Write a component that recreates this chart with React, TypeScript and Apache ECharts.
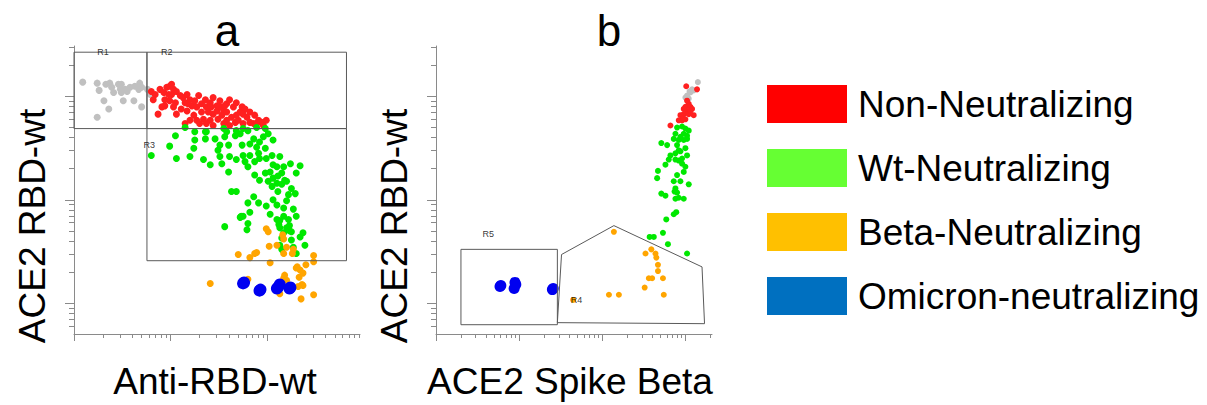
import { useEffect, useRef } from "react";
import * as echarts from "echarts";

type P = [number, number];

// All values are in decades (log10 of fluorescence intensity).

// ---- Panel a : Anti-RBD-wt (x) vs ACE2 RBD-wt (y)
const A_OTHER: P[] = [
  [1.09, 4.14], [1.24, 4.13], [1.26, 4.06], [1.33, 4.12], [1.37, 4.13], [1.39, 4.09], [1.41, 4.04],
  [1.46, 4.12], [1.48, 4.07], [1.49, 4.04], [1.53, 4.07], [1.49, 4.12], [1.55, 4.05], [1.58, 4.09],
  [1.63, 4.1], [1.67, 4.07], [1.68, 4.13], [1.7, 4.09], [1.31, 3.96], [1.36, 3.88], [1.51, 3.96],
  [1.62, 3.96], [1.7, 3.9], [1.24, 3.8], [1.76, 4.07], [1.79, 4.02],
];
const A_NON_NEUT: P[] = [
  [1.8, 4.05], [1.84, 4.02], [1.89, 4.07], [1.93, 4.04], [1.96, 4.09], [1.99, 4.1], [2.03, 4.07],
  [2.01, 4.02], [2.06, 4.05], [2.1, 4.01], [1.94, 3.97], [1.99, 3.96], [2.05, 3.94], [2.13, 3.99],
  [2.17, 4.02], [2.15, 3.94], [2.2, 3.97], [2.22, 3.91], [2.25, 3.96], [2.29, 4.01], [2.32, 3.93],
  [2.36, 3.97], [2.37, 3.9], [2.41, 3.94], [2.44, 3.99], [2.48, 3.91], [2.51, 3.96], [2.55, 3.86],
  [2.58, 3.93], [2.61, 3.97], [2.65, 3.9], [2.68, 3.94], [2.72, 3.85], [2.74, 3.9], [2.77, 3.88],
  [2.79, 3.8], [2.82, 3.85], [2.87, 3.82], [2.91, 3.77], [2.94, 3.75], [2.99, 3.77], [1.87, 3.83],
  [1.94, 3.91], [2.06, 3.83], [2.11, 3.88], [2.17, 3.86], [2.24, 3.82], [2.27, 3.77], [2.32, 3.85],
  [2.34, 3.78], [2.41, 3.77], [2.44, 3.83], [2.49, 3.78], [2.53, 3.82], [2.58, 3.77], [2.63, 3.8],
  [2.67, 3.75], [2.7, 3.77], [2.75, 3.74], [2.82, 3.75], [2.86, 3.74], [2.37, 3.74], [2.44, 3.72],
  [2.55, 3.74], [2.61, 3.72], [2.15, 3.74], [1.82, 3.97], [1.91, 3.9], [2.2, 3.77], [2.3, 3.74],
  [2.03, 3.9], [2.48, 3.86], [2.58, 3.85], [2.68, 3.82], [2.39, 3.85], [1.98, 4.02], [2.18, 3.93],
  [2.27, 3.9], [2.51, 3.9], [2.42, 3.9], [2.56, 3.91], [2.75, 3.83], [2.89, 3.74], [2.96, 3.72],
  [2.01, 4.12],
];
const A_WT_NEUT: P[] = [
  [2.05, 3.62], [1.99, 3.52], [1.8, 3.43], [2.06, 3.4], [2.2, 3.42], [2.24, 3.5], [2.25, 3.58],
  [2.36, 3.59], [2.37, 3.66], [2.46, 3.59], [2.51, 3.53], [2.49, 3.48], [2.6, 3.53], [2.56, 3.61],
  [2.67, 3.62], [2.72, 3.64], [2.74, 3.53], [2.75, 3.43], [2.68, 3.39], [2.61, 3.42], [2.53, 3.35],
  [2.51, 3.42], [2.6, 3.27], [2.41, 3.34], [2.34, 3.39], [2.82, 3.54], [2.86, 3.59], [2.89, 3.51],
  [2.92, 3.56], [2.96, 3.61], [3.01, 3.64], [3.06, 3.58], [2.98, 3.5], [2.91, 3.45], [2.82, 3.43],
  [2.8, 3.32], [2.77, 3.37], [2.87, 3.37], [2.92, 3.4], [2.99, 3.4], [3.05, 3.43], [3.13, 3.42],
  [3.06, 3.34], [3.1, 3.32], [3.17, 3.32], [3.24, 3.35], [3.34, 3.33], [3.15, 3.26], [3.3, 3.26],
  [2.87, 3.24], [2.98, 3.26], [3.03, 3.27], [3.06, 3.21], [3.1, 3.16], [3.15, 3.15], [3.2, 3.18],
  [3.05, 3.13], [3.11, 3.08], [3.22, 3.05], [3.29, 3.06], [3.2, 2.99], [3.27, 2.91], [3.17, 2.92],
  [2.99, 2.94], [3.06, 3.0], [3.1, 2.95], [2.91, 2.97], [2.86, 3.03], [2.8, 2.97], [2.82, 2.88],
  [2.63, 3.08], [2.68, 3.08], [3.11, 3.23], [3.18, 3.19], [3.25, 3.11], [3.01, 3.18], [2.92, 3.19],
  [2.15, 3.7], [2.25, 3.66], [2.36, 3.66], [2.55, 3.69], [2.58, 3.66], [2.68, 3.67], [2.75, 3.69],
  [2.8, 3.67], [2.89, 3.7], [2.98, 3.69],
  [3.3, 2.84], [3.22, 2.81], [3.17, 2.84], [3.13, 2.8], [3.1, 2.81], [3.03, 2.86], [2.73, 2.84],
  [2.72, 2.83], [2.8, 2.77], [2.56, 2.74], [2.79, 2.71], [3.13, 2.73], [3.17, 2.68], [3.2, 2.73],
  [3.25, 2.69], [3.15, 2.63], [3.25, 2.61], [3.34, 2.64], [3.37, 2.68], [3.13, 2.56], [3.15, 2.52],
  [3.27, 2.54], [3.3, 2.48], [3.39, 2.56], [2.75, 2.84], [3.12, 2.76], [3.23, 2.75], [3.23, 2.7],
];
const A_BETA_NEUT: P[] = [
  [2.99, 2.72], [3.01, 2.69], [3.16, 2.66], [3.17, 2.62], [3.02, 2.55], [3.1, 2.56], [3.2, 2.54],
  [3.27, 2.52], [3.26, 2.48], [3.17, 2.48], [2.7, 2.47], [2.87, 2.48], [2.89, 2.49], [2.82, 2.44],
  [3.03, 2.39], [3.48, 2.46], [3.48, 2.4], [3.4, 2.37], [3.31, 2.35], [3.34, 2.32], [3.37, 2.29],
  [3.33, 2.25], [3.18, 2.27], [3.17, 2.24], [3.13, 2.09], [3.35, 2.04], [3.48, 2.08], [3.36, 2.18],
  [2.41, 2.19], [2.8, 2.23], [3.37, 2.17], [3.32, 2.16], [3.2, 2.22], [3.3, 2.34],
];
const A_OMICRON_NEUT: P[] = [
  [2.75, 2.19], [2.76, 2.2], [2.92, 2.12], [2.93, 2.13], [3.1, 2.14], [3.11, 2.15], [3.13, 2.18],
  [3.23, 2.14], [3.24, 2.15],
];

// ---- Panel b : ACE2 Spike Beta (x) vs ACE2 RBD-wt (y)
const B_OTHER: P[] = [
  [4.15, 4.14], [4.1, 4.06], [4.06, 4.04], [4.02, 4.01], [4.04, 3.98], [4.0, 3.99], [4.05, 4.05], [4.08, 4.07],
];
const B_NON_NEUT: P[] = [
  [4.01, 4.1], [4.14, 4.07], [4.04, 3.93], [4.0, 3.9], [4.06, 3.9], [4.02, 3.86], [3.98, 3.83],
  [3.94, 3.82], [3.96, 3.77], [4.0, 3.78], [4.04, 3.83], [4.08, 3.88], [4.1, 3.82], [3.92, 3.77],
  [3.82, 3.72], [4.06, 3.86], [3.98, 3.88], [4.02, 3.96], [3.97, 3.79],
];
const B_WT_NEUT: P[] = [
  [3.9, 3.7], [3.96, 3.71], [4.0, 3.69], [4.04, 3.67], [4.02, 3.62], [3.98, 3.64], [3.94, 3.61],
  [3.88, 3.64], [3.86, 3.59], [3.92, 3.58], [3.98, 3.58], [4.02, 3.59], [3.71, 3.55], [3.78, 3.53],
  [3.9, 3.53], [3.92, 3.48], [3.88, 3.45], [3.94, 3.47], [4.0, 3.5], [4.02, 3.43], [3.96, 3.4],
  [3.92, 3.38], [3.82, 3.43], [3.8, 3.39], [3.76, 3.34], [3.88, 3.39], [3.96, 3.35], [4.0, 3.32],
  [3.98, 3.27], [3.67, 3.28], [3.66, 3.21], [3.9, 3.24], [3.86, 3.18], [3.94, 3.18], [4.04, 3.15],
  [3.88, 3.11], [3.87, 3.08], [3.9, 3.07], [3.92, 3.02], [3.98, 3.01], [3.71, 3.06], [3.76, 3.04],
  [3.88, 3.01], [3.89, 2.88], [3.86, 2.86], [3.77, 2.81], [3.73, 2.68], [3.57, 2.64], [3.62, 2.64],
  [3.79, 2.57], [4.02, 2.48],
];
const B_BETA_NEUT: P[] = [
  [3.14, 2.69], [3.59, 2.52], [3.52, 2.48], [3.64, 2.48], [3.65, 2.44], [3.67, 2.37], [3.67, 2.31],
  [3.56, 2.24], [3.6, 2.24], [3.73, 2.24], [3.51, 2.15], [3.74, 2.08], [3.08, 2.08], [3.2, 2.08],
  [2.65, 2.03],
];
const B_OMICRON_NEUT: P[] = [
  [1.78, 2.17], [1.77, 2.16], [1.95, 2.2], [1.94, 2.14], [1.96, 2.18], [2.41, 2.14], [2.4, 2.13],
];

// ---- Gates
const GATE_R1: P[] = [[1, 3.69], [1.755, 3.69], [1.755, 4.43], [1, 4.43], [1, 3.69]];
const GATE_R2: P[] = [[1.755, 3.69], [3.82, 3.69], [3.82, 4.43], [1.755, 4.43], [1.755, 3.69]];
const GATE_R3: P[] = [[1.755, 2.41], [3.82, 2.41], [3.82, 3.69], [1.755, 3.69], [1.755, 2.41]];
const GATE_R5: P[] = [[1.3, 1.79], [2.46, 1.79], [2.46, 2.52], [1.3, 2.52], [1.3, 1.79]];
const GATE_R4: P[] = [[2.46, 1.81], [2.51, 2.47], [3.14, 2.75], [4.2, 2.35], [4.23, 1.8], [2.46, 1.81]];
const GATE_LABELS_A = [
  { name: "R1", value: [1.3, 4.43] },
  { name: "R2", value: [1.96, 4.43] },
  { name: "R3", value: [1.78, 3.53] },
];
const GATE_LABELS_B = [
  { name: "R5", value: [1.63, 2.67] },
  { name: "R4", value: [2.69, 2.03] },
];

// ---- Axes (decades)
const A_X_RANGE: P = [1, 3.96];
const B_X_RANGE: P = [1, 4.32];
const Y_RANGE: P = [1.7, 4.49];
const A_X_MAJOR = [1, 2, 3];
const B_X_MAJOR = [1, 2, 3, 4];
const Y_MAJOR = [2, 3, 4];

const PANEL_TITLES = ["a", "b"];
const X_TITLES = ["Anti-RBD-wt", "ACE2 Spike Beta"];
const Y_TITLE = "ACE2 RBD-wt";

const LEGEND_ITEMS = [
  { name: "Non-Neutralizing", color: "#FF0000" },
  { name: "Wt-Neutralizing", color: "#66FF33" },
  { name: "Beta-Neutralizing", color: "#FFC000" },
  { name: "Omicron-neutralizing", color: "#0070C0" },
];

const POINT_COLORS = {
  other: "#C0C0C0",
  non: "#FF2020",
  wt: "#00E800",
  beta: "#FFA500",
  omicron: "#0000F0",
};

const FONT = "Liberation Sans, Arial, sans-serif";
const AXIS_GRAY = "#8a8a8a";

function minorTicks(range: P): number[] {
  const out: number[] = [];
  for (let d = Math.floor(range[0]) - 1; d <= Math.ceil(range[1]); d++) {
    for (let k = 2; k <= 9; k++) {
      const v = d + Math.log10(k);
      if (v > range[0] + 0.003 && v < range[1] - 0.003) out.push(v);
    }
  }
  return out;
}

function axisPair(
  dim: "x" | "y",
  gridIndex: number,
  range: P,
  majors: number[],
  majorLen: number,
  minorLen: number,
  name: string,
  nameGap: number,
  namePad: number[]
) {
  const common = {
    type: "value",
    gridIndex,
    min: range[0],
    max: range[1],
    position: dim === "x" ? "bottom" : "left",
    offset: 0,
    splitLine: { show: false },
    axisLabel: { show: false },
  };
  return [
    {
      ...common,
      name,
      nameLocation: "middle",
      nameGap,
      nameTextStyle: { fontSize: 37, color: "#000", fontFamily: FONT, padding: namePad },
      axisLine: { show: true, onZero: false, lineStyle: { color: AXIS_GRAY, width: 1 } },
      axisTick: { show: true, customValues: majors, length: majorLen, lineStyle: { color: AXIS_GRAY } },
    },
    {
      ...common,
      axisLine: { show: false, onZero: false },
      axisTick: { show: true, customValues: minorTicks(range), length: minorLen, lineStyle: { color: AXIS_GRAY } },
    },
  ];
}

function scatter(name: string, data: P[], color: string, size: number, xi: number, yi: number) {
  return {
    type: "scatter",
    name,
    data,
    xAxisIndex: xi,
    yAxisIndex: yi,
    symbolSize: size,
    itemStyle: { color, opacity: 1 },
    silent: true,
    z: 2,
  };
}

function gate(data: P[], xi: number, yi: number) {
  return {
    type: "line",
    data,
    xAxisIndex: xi,
    yAxisIndex: yi,
    symbol: "none",
    lineStyle: { color: "#5a5a5a", width: 1 },
    silent: true,
    clip: false,
    z: 3,
  };
}

function gateLabels(data: { name: string; value: number[] }[], xi: number, yi: number) {
  return {
    type: "scatter",
    data,
    xAxisIndex: xi,
    yAxisIndex: yi,
    symbolSize: 1,
    itemStyle: { color: "rgba(0,0,0,0)" },
    label: { show: true, position: "inside", formatter: "{b}", fontSize: 9, color: "#000", fontFamily: FONT },
    silent: true,
    z: 4,
  };
}

function yTitle(x: number) {
  return {
    type: "text",
    x,
    y: 226,
    rotation: Math.PI / 2,
    silent: true,
    style: {
      text: Y_TITLE,
      fontSize: 37,
      fontFamily: FONT,
      fill: "#000",
      textAlign: "center",
      textVerticalAlign: "middle",
    },
  };
}

export default function App() {
  const ref = useRef<HTMLDivElement>(null);

  useEffect(() => {
    document.body.style.margin = "0";
    if (!ref.current) return;
    const chart = echarts.init(ref.current, undefined, { renderer: "svg" });

    const xAxis = [
      ...axisPair("x", 0, A_X_RANGE, A_X_MAJOR, 7, 4, X_TITLES[0], 29, [0, 4, 0, 0]),
      ...axisPair("x", 1, B_X_RANGE, B_X_MAJOR, 7, 4, X_TITLES[1], 29, [0, 8, 0, 0]),
    ];
    const yAxis = [
      ...axisPair("y", 0, Y_RANGE, Y_MAJOR, 9, 5, "", 22, [0, 0, 0, 0]),
      ...axisPair("y", 1, Y_RANGE, Y_MAJOR, 9, 5, "", 22, [0, 0, 0, 0]),
    ];

    const option = {
      animation: false,
      backgroundColor: "#fff",
      textStyle: { fontFamily: FONT },
      title: [
        { text: PANEL_TITLES[0], left: 222, top: 3, textAlign: "center", textStyle: { fontSize: 44, fontWeight: "normal", color: "#000", fontFamily: FONT } },
        { text: PANEL_TITLES[1], left: 604, top: 3, textAlign: "center", textStyle: { fontSize: 44, fontWeight: "normal", color: "#000", fontFamily: FONT } },
      ],
      legend: {
        orient: "vertical",
        left: 767,
        top: 85,
        padding: 0,
        itemWidth: 80,
        itemHeight: 38,
        itemGap: 26,
        icon: "rect",
        selectedMode: false,
        textStyle: { fontSize: 37, color: "#000", fontFamily: FONT, padding: [0, 0, 0, 6] },
        data: LEGEND_ITEMS.map((l) => ({ name: l.name, icon: "rect", itemStyle: { color: l.color } })),
      },
      grid: [
        { left: 74, top: 46, width: 286, height: 292 },
        { left: 436, top: 46, width: 276, height: 292 },
      ],
      graphic: [yTitle(32), yTitle(394)],
      xAxis,
      yAxis,
      series: [
        scatter("Other", A_OTHER, POINT_COLORS.other, 7, 0, 0),
        scatter(LEGEND_ITEMS[0].name, A_NON_NEUT, POINT_COLORS.non, 7, 0, 0),
        scatter(LEGEND_ITEMS[1].name, A_WT_NEUT, POINT_COLORS.wt, 7, 0, 0),
        scatter(LEGEND_ITEMS[2].name, A_BETA_NEUT, POINT_COLORS.beta, 7, 0, 0),
        scatter(LEGEND_ITEMS[3].name, A_OMICRON_NEUT, POINT_COLORS.omicron, 12, 0, 0),
        scatter("Other", B_OTHER, POINT_COLORS.other, 6, 2, 2),
        scatter(LEGEND_ITEMS[0].name, B_NON_NEUT, POINT_COLORS.non, 6, 2, 2),
        scatter(LEGEND_ITEMS[1].name, B_WT_NEUT, POINT_COLORS.wt, 6, 2, 2),
        scatter(LEGEND_ITEMS[2].name, B_BETA_NEUT, POINT_COLORS.beta, 6, 2, 2),
        scatter(LEGEND_ITEMS[3].name, B_OMICRON_NEUT, POINT_COLORS.omicron, 11, 2, 2),
        gate(GATE_R1, 0, 0),
        gate(GATE_R2, 0, 0),
        gate(GATE_R3, 0, 0),
        gate(GATE_R5, 2, 2),
        gate(GATE_R4, 2, 2),
        gateLabels(GATE_LABELS_A, 0, 0),
        gateLabels(GATE_LABELS_B, 2, 2),
      ],
    };

    chart.setOption(option as any);
    return () => chart.dispose();
  }, []);

  return <div ref={ref} style={{ width: 1207, height: 405 }} />;
}
